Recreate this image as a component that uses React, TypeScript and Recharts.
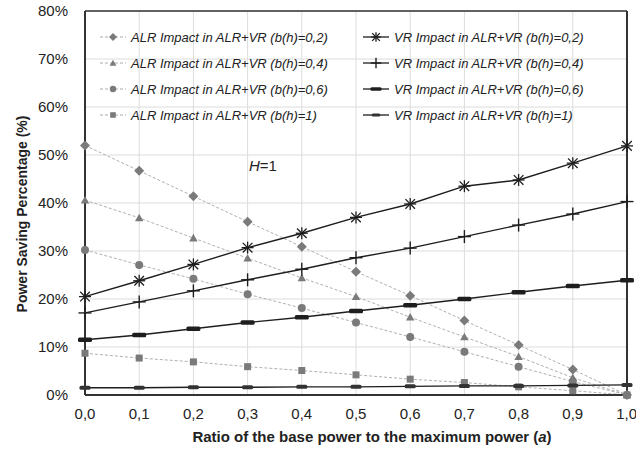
import React from 'react';
import { LineChart, Line, XAxis, YAxis, CartesianGrid, ReferenceLine } from 'recharts';

const aValues = [0, 0.1, 0.2, 0.3, 0.4, 0.5, 0.6, 0.7, 0.8, 0.9, 1.0];
const yTicks = [0, 10, 20, 30, 40, 50, 60, 70, 80];

const alr02 = [52.0, 46.7, 41.4, 36.1, 30.9, 25.7, 20.7, 15.5, 10.4, 5.3, 0];
const alr04 = [40.6, 36.9, 32.7, 28.5, 24.4, 20.5, 16.2, 12.1, 8.0, 3.6, 0];
const alr06 = [30.2, 27.1, 24.2, 21.0, 18.1, 15.1, 12.1, 9.0, 5.9, 2.8, 0];
const alr1 = [8.7, 7.7, 6.9, 5.9, 5.1, 4.2, 3.3, 2.6, 1.7, 0.9, 0];
const vr02 = [20.5, 23.8, 27.2, 30.7, 33.7, 37.0, 39.8, 43.5, 44.8, 48.3, 51.9];
const vr04 = [17.1, 19.4, 21.7, 24.0, 26.2, 28.6, 30.6, 33.0, 35.4, 37.7, 40.3];
const vr06 = [11.5, 12.5, 13.8, 15.1, 16.2, 17.5, 18.7, 20.0, 21.4, 22.7, 23.9];
const vr1 = [1.5, 1.5, 1.6, 1.6, 1.7, 1.7, 1.8, 1.9, 1.9, 2.0, 2.1];

const alrNames = [
  'ALR Impact in ALR+VR (b(h)=0,2)',
  'ALR Impact in ALR+VR (b(h)=0,4)',
  'ALR Impact in ALR+VR (b(h)=0,6)',
  'ALR Impact in ALR+VR (b(h)=1)',
];
const vrNames = [
  'VR Impact in ALR+VR (b(h)=0,2)',
  'VR Impact in ALR+VR (b(h)=0,4)',
  'VR Impact in ALR+VR (b(h)=0,6)',
  'VR Impact in ALR+VR (b(h)=1)',
];

const data = aValues.map((a, i) => ({
  a,
  alr02: alr02[i], alr04: alr04[i], alr06: alr06[i], alr1: alr1[i],
  vr02: vr02[i], vr04: vr04[i], vr06: vr06[i], vr1: vr1[i],
}));

const GRAY = '#7a7a7a';
const BLACK = '#1e1e1e';

type Shape = 'diamond' | 'triangle' | 'circle' | 'square' | 'star' | 'plus' | 'dashBig' | 'dashSmall';

function marker(shape: Shape, cx: number, cy: number, key?: string | number, s = 1) {
  switch (shape) {
    case 'diamond': {
      const r = 5 * s;
      return <path key={key} d={`M${cx},${cy - r}L${cx + r},${cy}L${cx},${cy + r}L${cx - r},${cy}Z`} fill={GRAY} />;
    }
    case 'triangle': {
      const r = 4.2 * s;
      return <path key={key} d={`M${cx},${cy - r}L${cx + r},${cy + r * 0.8}L${cx - r},${cy + r * 0.8}Z`} fill={GRAY} />;
    }
    case 'circle':
      return <circle key={key} cx={cx} cy={cy} r={4 * s} fill={GRAY} />;
    case 'square': {
      const r = 3.5 * s;
      return <rect key={key} x={cx - r} y={cy - r} width={2 * r} height={2 * r} fill={GRAY} />;
    }
    case 'star': {
      const r = 6 * s;
      const d = r * 0.8;
      return (
        <g key={key} stroke={BLACK} strokeWidth={1.3}>
          <line x1={cx - r} y1={cy} x2={cx + r} y2={cy} />
          <line x1={cx - d} y1={cy - d} x2={cx + d} y2={cy + d} />
          <line x1={cx - d} y1={cy + d} x2={cx + d} y2={cy - d} />
          <line x1={cx} y1={cy - r} x2={cx} y2={cy + r} />
        </g>
      );
    }
    case 'plus': {
      const r = 6.5 * s;
      return (
        <g key={key} stroke={BLACK} strokeWidth={1.4}>
          <line x1={cx - r} y1={cy} x2={cx + r} y2={cy} />
          <line x1={cx} y1={cy - r} x2={cx} y2={cy + r} />
        </g>
      );
    }
    case 'dashBig':
      return <rect key={key} x={cx - 7 * s} y={cy - 2.2 * s} width={14 * s} height={4.4 * s} rx={1.5} fill={BLACK} />;
    case 'dashSmall':
      return <rect key={key} x={cx - 5.5 * s} y={cy - 2 * s} width={11 * s} height={4 * s} rx={1.5} fill={'#333'} />;
  }
  return null;
}

const dotFor = (shape: Shape) => (props: any) => {
  const { cx, cy, index } = props;
  if (cx == null || cy == null) return <g key={`e${index}`} />;
  return marker(shape, cx, cy, `${shape}-${index}`);
};

const alrKeys = ['alr02', 'alr04', 'alr06', 'alr1'];
const alrShapes: Shape[] = ['diamond', 'triangle', 'circle', 'square'];
const vrKeys = ['vr02', 'vr04', 'vr06', 'vr1'];
const vrShapes: Shape[] = ['star', 'plus', 'dashBig', 'dashSmall'];

const font = '"Liberation Sans", Arial, sans-serif';

function LegendItem({ name, shape, dashed, x, y }: { name: string; shape: Shape; dashed: boolean; x: number; y: number }) {
  return (
    <g>
      <line x1={x} y1={y} x2={x + 26} y2={y} stroke={dashed ? '#aaa' : BLACK} strokeWidth={dashed ? 1 : 1.3} strokeDasharray={dashed ? '3 2' : undefined} />
      {marker(shape, x + 13, y, undefined, 0.8)}
      <text x={x + 31} y={y + 4.5} fontFamily={font} fontStyle="italic" fontSize={13} fill="#222">{name}</text>
    </g>
  );
}

export default function App() {
  const rowsY = [37, 63, 89, 115];
  return (
    <div style={{ position: 'absolute', left: 0, top: 0, width: 636, height: 449, background: '#fff' }}>
      <LineChart width={636} height={449} data={data} margin={{ top: 11, right: 9, left: 0, bottom: 0 }}>
        <CartesianGrid stroke="#dcdcdc" strokeWidth={1} />
        <XAxis
          dataKey="a"
          type="number"
          domain={[0, 1]}
          ticks={aValues}
          tickFormatter={(v: number) => v.toFixed(1).replace('.', ',')}
          height={54}
          axisLine={{ stroke: '#333', strokeWidth: 2 }}
          tickLine={false}
          tick={{ fontFamily: font, fontSize: 15, fill: '#222' }}
          tickMargin={7}
        />
        <YAxis
          type="number"
          domain={[0, 80]}
          ticks={yTicks}
          tickFormatter={(v: number) => `${v}%`}
          width={85}
          axisLine={{ stroke: '#333', strokeWidth: 2 }}
          tickLine={false}
          tick={{ fontFamily: font, fontSize: 15, fill: '#222' }}
          tickMargin={11}
        />
        <ReferenceLine y={80} stroke="#333" strokeWidth={1.5} />
        <ReferenceLine x={1} stroke="#333" strokeWidth={2} />
        {alrKeys.map((k, i) => (
          <Line key={k} dataKey={k} name={alrNames[i]} stroke="#b0b0b0" strokeWidth={1} strokeDasharray="3 2" dot={dotFor(alrShapes[i])} activeDot={false} isAnimationActive={false} />
        ))}
        {vrKeys.map((k, i) => (
          <Line key={k} dataKey={k} name={vrNames[i]} stroke={BLACK} strokeWidth={1.4} dot={dotFor(vrShapes[i])} activeDot={false} isAnimationActive={false} />
        ))}
      </LineChart>
      <svg width={636} height={449} style={{ position: 'absolute', left: 0, top: 0, pointerEvents: 'none' }}>
        {alrNames.map((n, i) => (
          <LegendItem key={n} name={n} shape={alrShapes[i]} dashed={true} x={100} y={rowsY[i]} />
        ))}
        {vrNames.map((n, i) => (
          <LegendItem key={n} name={n} shape={vrShapes[i]} dashed={false} x={363} y={rowsY[i]} />
        ))}
        <text x={249} y={171} fontFamily={font} fontSize={15} fill="#222">
          <tspan fontStyle="italic">H</tspan>=1
        </text>
        <text
          x={0}
          y={0}
          transform="translate(27,214) rotate(-90)"
          textAnchor="middle"
          fontFamily={font}
          fontSize={14}
          fontWeight="bold"
          fill="#222"
        >
          Power Saving Percentage (%)
        </text>
        <text x={372} y={442} textAnchor="middle" fontFamily={font} fontSize={15} fontWeight="bold" fill="#222">
          Ratio of the base power to the maximum power (<tspan fontStyle="italic">a</tspan>)
        </text>
      </svg>
    </div>
  );
}
